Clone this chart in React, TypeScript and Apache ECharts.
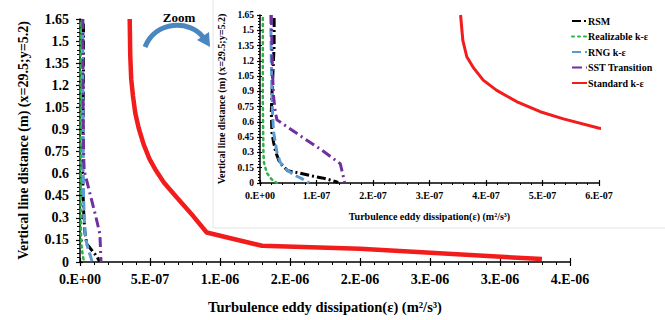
import React, { useEffect, useRef } from "react";
import * as echarts from "echarts";

// ---------- data (x in units of 1e-7 m²/s³, y in m) ----------
const X_UNIT = 1e-7;
const Y_MAX = 1.65;
const Y_STEP = 0.15;
const MAIN_X_MAX = 35;
const MAIN_X_STEP = 5;
const INSET_X_MAX = 6;
const INSET_X_STEP = 1;

const seriesNames = ["RSM", "Realizable k-ε", "RNG k-ε", "SST Transition", "Standard k-ε"];

const rsm: [number, number][] = [
  [0.25, 1.62], [0.25, 1.35], [0.23, 1.1], [0.21, 0.85], [0.2, 0.7], [0.21, 0.5],
  [0.24, 0.4], [0.28, 0.3], [0.35, 0.2], [0.49, 0.12], [0.68, 0.1], [0.91, 0.07],
  [1.1, 0.05], [1.24, 0.03], [1.36, 0.01], [1.38, 0],
];
const realizable: [number, number][] = [
  [0.05, 1.62], [0.05, 1.2], [0.05, 0.8], [0.06, 0.3], [0.07, 0.2], [0.12, 0.1],
  [0.2, 0.04], [0.3, 0],
];
const rng: [number, number][] = [
  [0.19, 1.65], [0.2, 1.2], [0.22, 0.7], [0.24, 0.5], [0.27, 0.4], [0.3, 0.3],
  [0.36, 0.2], [0.45, 0.14], [0.6, 0.08], [0.75, 0.04], [0.87, 0],
];
const sst: [number, number][] = [
  [0.2, 1.65], [0.21, 1.4], [0.22, 1.1], [0.24, 0.85], [0.27, 0.7], [0.3, 0.62],
  [0.75, 0.45], [1.1, 0.32], [1.42, 0.19], [1.46, 0.1], [1.5, 0],
];
const standard: [number, number][] = [
  [3.55, 1.65], [3.59, 1.4], [3.66, 1.24], [3.78, 1.13], [3.95, 1.01], [4.19, 0.91],
  [4.54, 0.8], [4.96, 0.7], [5.37, 0.63], [5.99, 0.54], [6.9, 0.44], [8.1, 0.31],
  [9.05, 0.2], [13, 0.11], [20, 0.09], [33, 0.02],
];
const seriesData = [rsm, realizable, rng, sst, standard];

// ---------- styles ----------
const FONT = "'Liberation Serif', 'Times New Roman', serif";
const colors = ["#000000", "#2db34a", "#5b9bd5", "#7030a0", "#f21c1c"];
const dashes: any[] = [[9, 3, 2, 3], [2, 4], [9, 4], [10, 4, 2, 4], "solid"];
const mainWidths = [3, 2.5, 3, 3, 4.5];
const insetWidths = [3, 2.5, 3, 3, 3];

const fmtSci = (v: number) => {
  const real = v * X_UNIT;
  if (Math.abs(real) < 1e-20) return "0.E+00";
  const [mStr, eStr] = real.toExponential(8).split("e");
  let m = Math.round(parseFloat(mStr));
  let e = parseInt(eStr, 10);
  if (m >= 10) {
    m = 1;
    e += 1;
  }
  return `${m}.E${e < 0 ? "-" : "+"}${String(Math.abs(e)).padStart(2, "0")}`;
};
const fmtY = (v: number) => String(parseFloat(v.toFixed(2)));

function primaryAxis(o: any) {
  return {
    type: "value",
    gridIndex: o.grid,
    min: 0,
    max: o.max,
    interval: o.step,
    position: o.position,
    axisLine: { show: true, onZero: false, lineStyle: { color: "#000", width: 1.5 } },
    axisTick: { show: true, inside: false, length: o.tick, lineStyle: { color: "#000", width: 1.2 } },
    minorTick: { show: true, splitNumber: 5, length: o.minor, lineStyle: { color: "#000", width: 1 } },
    splitLine: { show: false },
    axisLabel: {
      show: true,
      margin: o.margin,
      fontFamily: FONT,
      fontWeight: "bold",
      fontSize: o.labelSize,
      color: "#000",
      formatter: o.fmt,
    },
    name: o.name,
    nameLocation: "middle",
    nameGap: o.nameGap,
    nameTextStyle: { fontFamily: FONT, fontWeight: "bold", fontSize: o.nameSize, color: "#000" },
  };
}
function tickAxis(o: any) {
  return {
    type: "value",
    gridIndex: o.grid,
    min: 0,
    max: o.max,
    interval: o.step,
    position: o.position,
    axisLine: { show: false, onZero: false },
    axisTick: { show: true, inside: true, length: o.tick, lineStyle: { color: "#000", width: 1.2 } },
    splitLine: { show: false },
    axisLabel: { show: false },
  };
}

export default function App() {
  const ref = useRef<HTMLDivElement>(null);
  useEffect(() => {
    if (!ref.current) return;
    const chart = echarts.init(ref.current, undefined, { renderer: "svg" });
    const series: any[] = [];
    seriesNames.forEach((name, i) => {
      [0, 1].forEach((g) => {
        series.push({
          type: "line",
          name,
          xAxisIndex: g === 0 ? 0 : 2,
          yAxisIndex: g === 0 ? 0 : 2,
          data: seriesData[i],
          showSymbol: false,
          symbol: "none",
          clip: true,
          z: i === 4 ? 3 : 2,
          lineStyle: {
            color: colors[i],
            width: g === 0 ? mainWidths[i] : insetWidths[i],
            type: dashes[i],
            cap: i === 1 ? "round" : "butt",
          },
          itemStyle: { color: colors[i] },
        });
      });
    });
    const xTitle = "Turbulence eddy dissipation(ε) (m²/s³)";
    const yTitle = "Vertical line distance (m) (x=29.5;y=5.2)";
    const option: any = {
      animation: false,
      backgroundColor: "#ffffff",
      grid: [
        { left: 80, top: 19, width: 490, height: 243 },
        { left: 260, top: 15, width: 339, height: 168 },
      ],
      xAxis: [
        primaryAxis({ grid: 0, max: MAIN_X_MAX, step: MAIN_X_STEP, position: "bottom", tick: 4, minor: 3, margin: 10, labelSize: 14, fmt: fmtSci, name: xTitle, nameGap: 37, nameSize: 14.5 }),
        tickAxis({ grid: 0, max: MAIN_X_MAX, step: MAIN_X_STEP, position: "bottom", tick: 4 }),
        primaryAxis({ grid: 1, max: INSET_X_MAX, step: INSET_X_STEP, position: "bottom", tick: 3, minor: 2, margin: 7, labelSize: 10, fmt: fmtSci, name: xTitle, nameGap: 28, nameSize: 10 }),
        tickAxis({ grid: 1, max: INSET_X_MAX, step: INSET_X_STEP, position: "bottom", tick: 3 }),
      ],
      yAxis: [
        primaryAxis({ grid: 0, max: Y_MAX, step: Y_STEP, position: "left", tick: 4, minor: 3, margin: 11, labelSize: 14, fmt: fmtY, name: yTitle, nameGap: 50, nameSize: 14 }),
        tickAxis({ grid: 0, max: Y_MAX, step: Y_STEP, position: "left", tick: 3 }),
        primaryAxis({ grid: 1, max: Y_MAX, step: Y_STEP, position: "left", tick: 3, minor: 2, margin: 6, labelSize: 9.5, fmt: fmtY, name: yTitle, nameGap: 34, nameSize: 10 }),
        tickAxis({ grid: 1, max: Y_MAX, step: Y_STEP, position: "left", tick: 2 }),
      ],
      legend: {
        orient: "vertical",
        left: 566,
        top: 11,
        itemWidth: 15,
        itemHeight: 8,
        itemGap: 5.5,
        data: seriesNames,
        itemStyle: { opacity: 0 },
        textStyle: { fontFamily: FONT, fontWeight: "bold", fontSize: 10, color: "#000", padding: [0, 0, 0, -4] },
      },
      graphic: [
        {
          type: "rect",
          z: -1,
          silent: true,
          shape: { x: 213, y: -5, width: 460, height: 233 },
          style: { fill: "#ffffff", stroke: "#e4e4e4", lineWidth: 1 },
        },
        {
          type: "text",
          x: 179,
          y: 17,
          style: { text: "Zoom", font: `bold 13px ${FONT}`, fill: "#000", align: "center", verticalAlign: "middle" },
        },
        {
          type: "bezierCurve",
          shape: { x1: 145, y1: 47, cpx1: 156, cpy1: 20, cpx2: 190, cpy2: 20, x2: 203, y2: 37 },
          style: { stroke: "#4a86c0", lineWidth: 5, fill: "none" },
        },
        {
          type: "polygon",
          shape: { points: [[197, 40], [209, 32], [210, 47]] },
          style: { fill: "#4a86c0" },
        },
      ],
      series,
    };
    chart.setOption(option);
    return () => chart.dispose();
  }, []);
  return <div ref={ref} style={{ position: "fixed", left: 0, top: 0, width: 665, height: 320 }} />;
}
